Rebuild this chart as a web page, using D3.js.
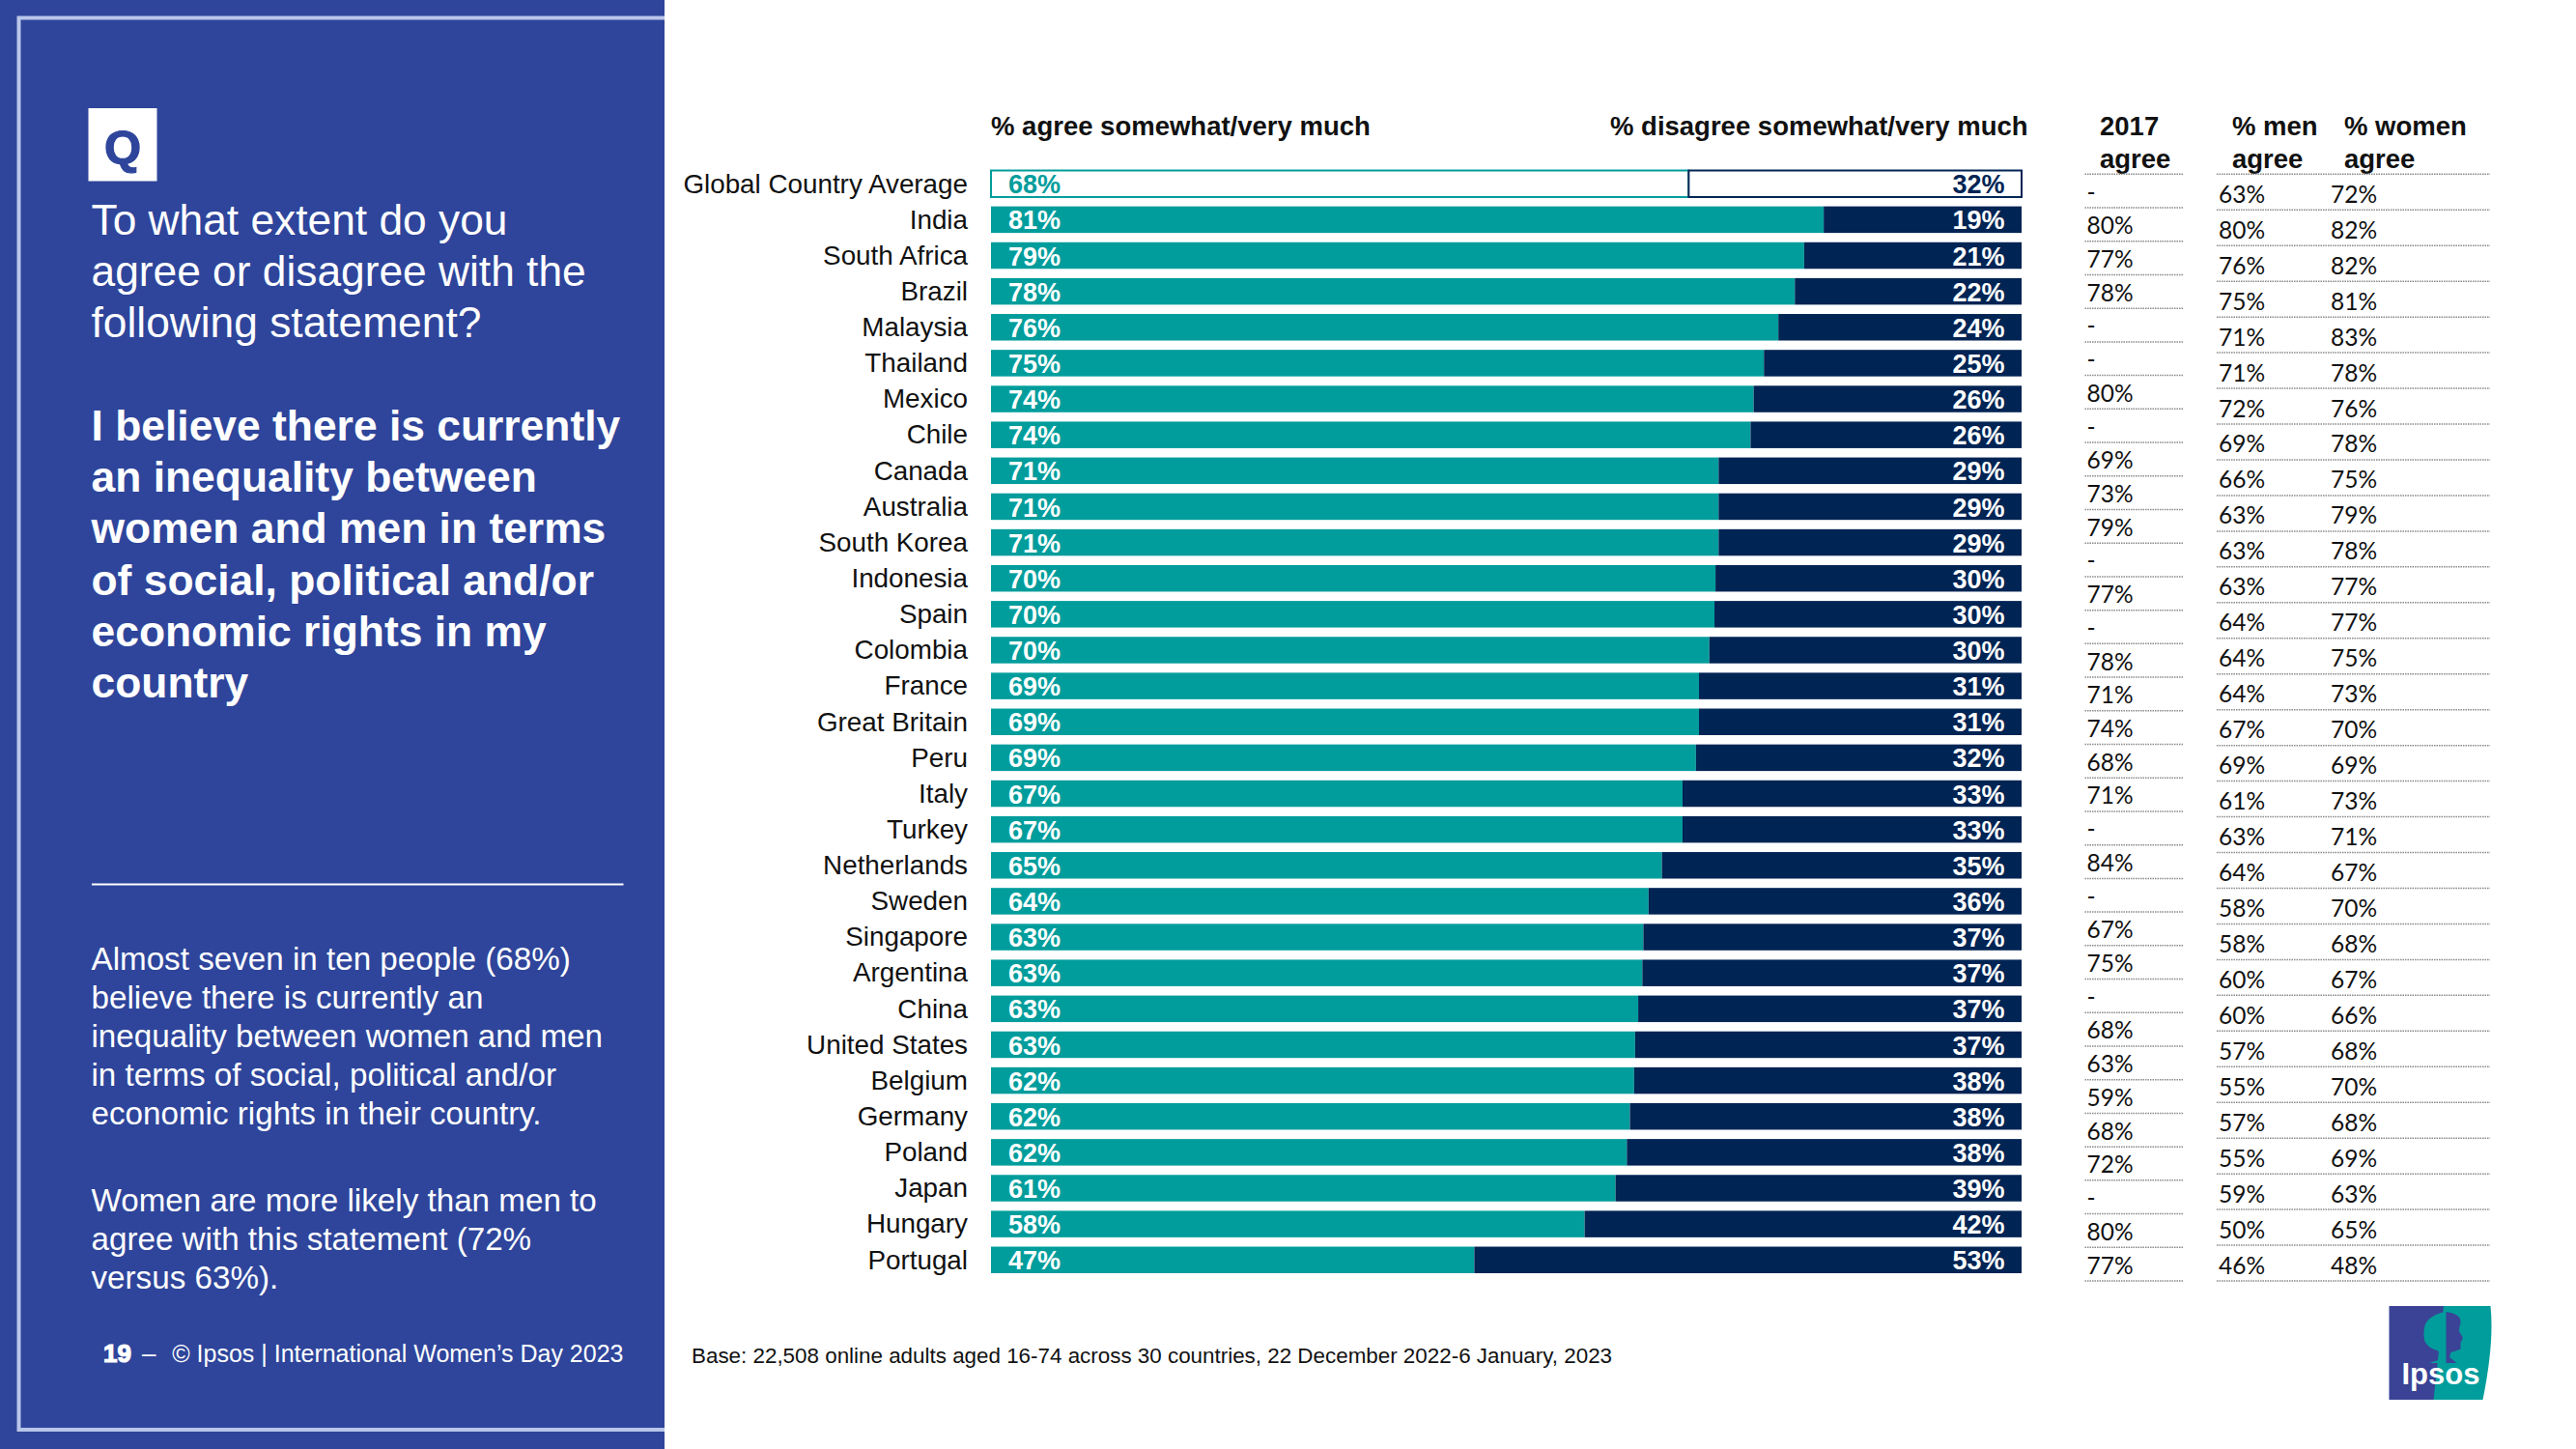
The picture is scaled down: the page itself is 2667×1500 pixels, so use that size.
<!DOCTYPE html>
<html>
<head>
<meta charset="utf-8">
<script src="https://cdn.jsdelivr.net/npm/d3@7"></script>
<style>
    html, body { margin: 0; padding: 0; background: #fff; }
    svg { display: block; }
    text { font-family: "Liberation Sans", Arial, sans-serif; }
    .cell { font-family: Lato, sans-serif; font-size: 24.5px; fill: #111; }
</style>
</head>
<body>
<div id="chart"></div>
<script>
const countries = ['Global Country Average', 'India', 'South Africa', 'Brazil', 'Malaysia', 'Thailand', 'Mexico', 'Chile',
    'Canada', 'Australia', 'South Korea', 'Indonesia', 'Spain', 'Colombia', 'France', 'Great Britain', 'Peru', 'Italy',
    'Turkey', 'Netherlands', 'Sweden', 'Singapore', 'Argentina', 'China', 'United States', 'Belgium', 'Germany',
    'Poland', 'Japan', 'Hungary', 'Portugal']

// bar split (labels below are rounded differently in a few rows)
const agreeShare = [67.7, 80.8, 78.9, 78.0, 76.4, 75.0, 74.0, 73.7, 70.6, 70.6, 70.6, 70.3, 70.2, 69.7, 68.7, 68.7,
    68.4, 67.1, 67.1, 65.1, 63.8, 63.3, 63.2, 62.8, 62.5, 62.4, 62.0, 61.7, 60.6, 57.6, 46.9]
const agreeLabels = [68, 81, 79, 78, 76, 75, 74, 74, 71, 71, 71, 70, 70, 70, 69, 69, 69, 67, 67, 65, 64, 63, 63, 63, 63,
    62, 62, 62, 61, 58, 47]
const disagreeLabels = [32, 19, 21, 22, 24, 25, 26, 26, 29, 29, 29, 30, 30, 30, 31, 31, 32, 33, 33, 35, 36, 37, 37, 37,
    37, 38, 38, 38, 39, 42, 53]

// the 2017 column has its own row height in the original slide
const agree2017 = ['-', '80%', '77%', '78%', '-', '-', '80%', '-', '69%', '73%', '79%', '-', '77%', '-', '78%', '71%',
    '74%', '68%', '71%', '-', '84%', '-', '67%', '75%', '-', '68%', '63%', '59%', '68%', '72%', '-', '80%', '77%']
const menAgree = [63, 80, 76, 75, 71, 71, 72, 69, 66, 63, 63, 63, 64, 64, 64, 67, 69, 61, 63, 64, 58, 58, 60, 60, 57,
    55, 57, 55, 59, 50, 46]
const womenAgree = [72, 82, 82, 81, 83, 78, 76, 78, 75, 79, 78, 77, 77, 75, 73, 70, 69, 73, 71, 67, 70, 68, 67, 66, 68,
    70, 68, 69, 63, 65, 48]

const questionLines = ['To what extent do you', 'agree or disagree with the', 'following statement?']
const statementLines = ['I believe there is currently', 'an inequality between', 'women and men in terms',
    'of social, political and/or', 'economic rights in my', 'country']
const summaryLines = ['Almost seven in ten people (68%)', 'believe there is currently an',
    'inequality between women and men', 'in terms of social, political and/or', 'economic rights in their country.']
const womenLines = ['Women are more likely than men to', 'agree with this statement (72%', 'versus 63%).']

const colours = { panel: '#2e459b', border: '#b9c6ea', teal: '#009d9c', navy: '#002454', line: '#8a8a8a',
    logoBlue: '#3a4395' }

const svg = d3.select('#chart').append('svg')
    .attr('width', 2667)
    .attr('height', 1500)

function textLines (parent, lines, x, y0, pitch, size, weight) {
    parent.append('g')
        .selectAll('text')
        .data(lines)
        .enter()
        .append('text')
        .attr('x', x)
        .attr('y', (d, i) => y0 + i * pitch)
        .attr('font-size', size)
        .attr('font-weight', weight)
        .attr('fill', '#fff')
        .text(d => d)
}

// left panel
const panel = svg.append('g')
panel.append('rect')
    .attr('width', 688)
    .attr('height', 1500)
    .attr('fill', colours.panel)
panel.append('path')
    .attr('d', 'M688,18.5H19.5V1480H688')
    .attr('fill', 'none')
    .attr('stroke', colours.border)
    .attr('stroke-width', 4)
panel.append('rect')
    .attr('x', 91.5)
    .attr('y', 112)
    .attr('width', 71)
    .attr('height', 75.5)
    .attr('fill', '#fff')
panel.append('text')
    .attr('x', 127)
    .attr('y', 169)
    .attr('text-anchor', 'middle')
    .attr('font-size', 49)
    .attr('font-weight', 700)
    .attr('fill', colours.panel)
    .attr('stroke', colours.panel)
    .attr('stroke-width', 1.2)
    .text('Q')
textLines(panel, questionLines, 94.5, 242.6, 53.1, 44.3, 400)
textLines(panel, statementLines, 94.5, 455.6, 53.3, 44.4, 700)
panel.append('line')
    .attr('x1', 95)
    .attr('x2', 645.5)
    .attr('y1', 915.5)
    .attr('y2', 915.5)
    .attr('stroke', '#fff')
    .attr('stroke-width', 2)
textLines(panel, summaryLines, 94.5, 1003.7, 39.95, 33.2, 400)
textLines(panel, womenLines, 94.5, 1254.3, 39.8, 33.2, 400)
panel.append('text')
    .attr('x', 107)
    .attr('y', 1410)
    .attr('font-size', 26)
    .attr('font-weight', 700)
    .attr('fill', '#fff')
    .attr('stroke', '#fff')
    .attr('stroke-width', 1.2)
    .text('19')
panel.append('text')
    .attr('x', 147)
    .attr('y', 1410)
    .attr('font-size', 26)
    .attr('fill', '#fff')
    .text('–')
panel.append('text')
    .attr('x', 645.5)
    .attr('y', 1410)
    .attr('text-anchor', 'end')
    .attr('font-size', 25)
    .attr('fill', '#fff')
    .text('© Ipsos | International Women’s Day 2023')

// bars
const x = d3.scaleLinear().domain([0, 100]).range([1026, 2093])
const y = d3.scaleBand()
    .domain(countries)
    .range([176.5, 1318])
    .paddingInner(0.26)
    .paddingOuter(0)

const rows = countries.map((name, i) => ({
    name, i, share: agreeShare[i], agree: agreeLabels[i], disagree: disagreeLabels[i]
}))

const row = svg.append('g')
    .selectAll('g.row')
    .data(rows)
    .enter()
    .append('g')
    .attr('class', 'row')

row.append('text')
    .attr('x', 1002)
    .attr('y', d => y(d.name) + 23)
    .attr('text-anchor', 'end')
    .attr('font-size', 27.8)
    .attr('fill', '#111')
    .text(d => d.name)

// first row is the average: outlined, everything else filled
row.append('rect')
    .attr('x', x(0))
    .attr('y', d => y(d.name))
    .attr('width', d => x(d.share) - x(0))
    .attr('height', y.bandwidth())
    .attr('fill', d => d.i === 0 ? '#fff' : colours.teal)
    .attr('stroke', d => d.i === 0 ? colours.teal : 'none')
    .attr('stroke-width', 2)
row.append('rect')
    .attr('x', d => x(d.share))
    .attr('y', d => y(d.name))
    .attr('width', d => x(100) - x(d.share))
    .attr('height', y.bandwidth())
    .attr('fill', d => d.i === 0 ? '#fff' : colours.navy)
    .attr('stroke', d => d.i === 0 ? colours.navy : 'none')
    .attr('stroke-width', 2)

row.append('text')
    .attr('x', 1044)
    .attr('y', d => y(d.name) + 23.8)
    .attr('font-size', 27)
    .attr('font-weight', 700)
    .attr('fill', d => d.i === 0 ? colours.teal : '#fff')
    .text(d => d.agree + '%')
row.append('text')
    .attr('x', 2075.5)
    .attr('y', d => y(d.name) + 23.8)
    .attr('text-anchor', 'end')
    .attr('font-size', 27)
    .attr('font-weight', 700)
    .attr('fill', d => d.i === 0 ? colours.navy : '#fff')
    .text(d => d.disagree + '%')

// column headers
const headers = [
    { t: '% agree somewhat/very much', x: 1026, y: 140 },
    { t: '% disagree somewhat/very much', x: 1667, y: 140 },
    { t: '2017', x: 2174, y: 140 },
    { t: 'agree', x: 2174, y: 174 },
    { t: '% men', x: 2311, y: 140 },
    { t: 'agree', x: 2311, y: 174 },
    { t: '% women', x: 2427, y: 140 },
    { t: 'agree', x: 2427, y: 174 }
]
svg.append('g')
    .selectAll('text')
    .data(headers)
    .enter()
    .append('text')
    .attr('x', d => d.x)
    .attr('y', d => d.y)
    .attr('font-size', 27.5)
    .attr('font-weight', 700)
    .attr('fill', '#111')
    .text(d => d.t)

// side tables, each has a dotted rule under its rows
function tableRules (n, x1, x2, yScale) {
    svg.append('g')
        .selectAll('line')
        .data(d3.range(n + 1))
        .enter()
        .append('line')
        .attr('x1', x1)
        .attr('x2', x2)
        .attr('y1', d => yScale(d))
        .attr('y2', d => yScale(d))
        .attr('stroke', colours.line)
        .attr('stroke-width', 1.5)
        .attr('stroke-dasharray', '1.5 1')
}

function tableColumn (values, xPos, yScale) {
    svg.append('g')
        .selectAll('text')
        .data(values)
        .enter()
        .append('text')
        .attr('class', 'cell')
        .attr('x', xPos)
        .attr('y', (d, i) => yScale(i + 1) - 7.5)
        .text(d => d)
}

const y2017 = d3.scaleLinear().domain([0, agree2017.length]).range([180.3, 1326])
const yGender = d3.scaleLinear().domain([0, menAgree.length]).range([180.3, 1326])

tableRules(agree2017.length, 2158.5, 2260, y2017)
tableRules(menAgree.length, 2295, 2578, yGender)
tableColumn(agree2017, 2160.5, y2017)
tableColumn(menAgree.map(d => d + '%'), 2297, yGender)
tableColumn(womenAgree.map(d => d + '%'), 2413, yGender)

// base note
svg.append('text')
    .attr('x', 716)
    .attr('y', 1410.5)
    .attr('font-size', 22.4)
    .attr('fill', '#111')
    .text('Base: 22,508 online adults aged 16-74 across 30 countries, 22 December 2022-6 January, 2023')

// logo
const logo = svg.append('g').attr('transform', 'translate(2473.5,1352)')
logo.append('rect')
    .attr('width', 60)
    .attr('height', 97)
    .attr('fill', colours.logoBlue)
logo.append('path')
    .attr('d', 'M56.5,0H105Q109,38 97,97H46Z')
    .attr('fill', colours.teal)
logo.append('path')
    .attr('d', 'M58,6C46,8 37,15 36.5,23C35,31 37,38 38,38C41,43 46,45 50,46C53,49 55,52 54,55L41.5,59H58Z')
    .attr('fill', colours.teal)
logo.append('path')
    .attr('d', 'M59,6C67,7 74,10 74,16C74,20 72,23 72.5,26L76.5,33L74,38V44.5L64,48L62.5,53L70,59H59Z')
    .attr('fill', colours.logoBlue)
logo.append('text')
    .attr('x', 13)
    .attr('y', 80.7)
    .attr('font-family', '"Open Sans", sans-serif')
    .attr('font-size', 31)
    .attr('font-weight', 600)
    .attr('fill', '#fff')
    .text('Ipsos')
</script>
</body>
</html>
